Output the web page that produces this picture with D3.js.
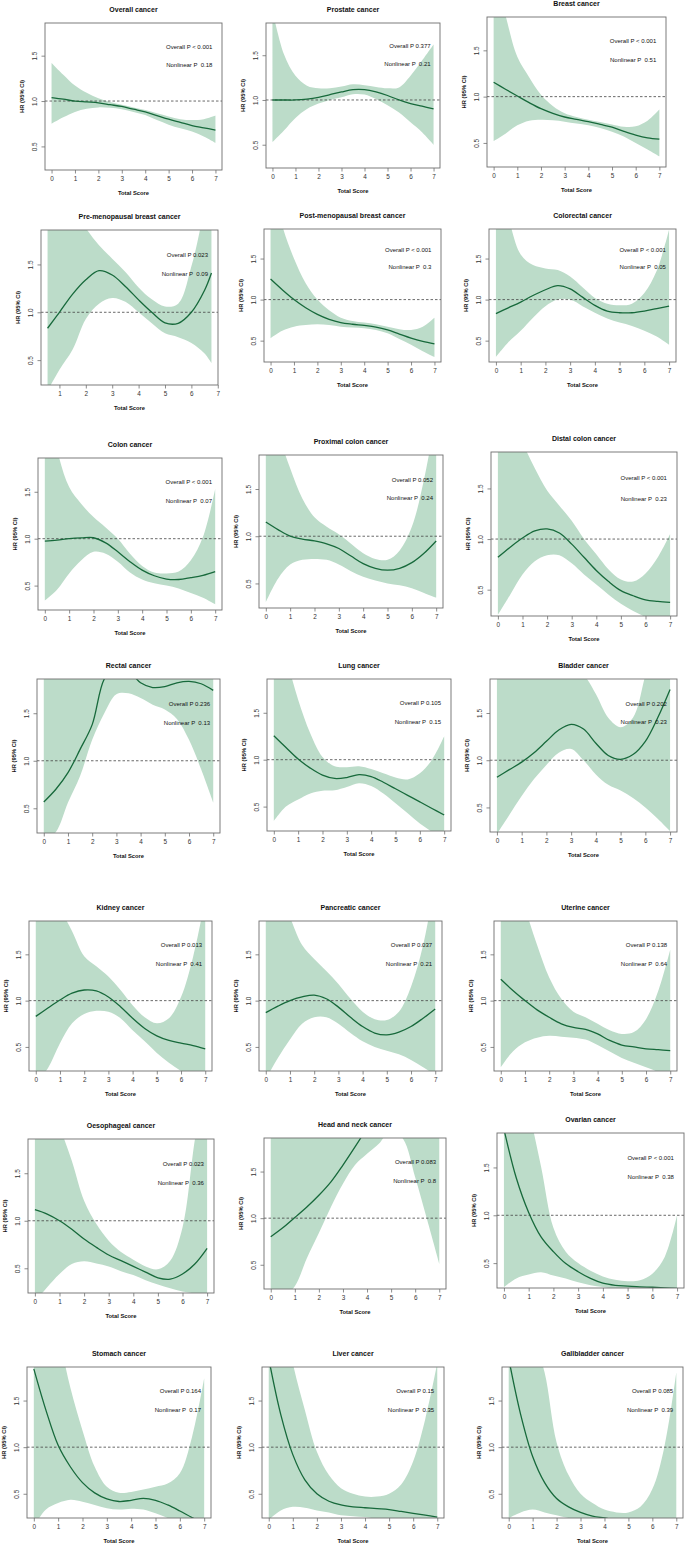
<!DOCTYPE html>
<html>
<head>
<meta charset="utf-8">
<script src="https://cdn.jsdelivr.net/npm/d3@7"></script>
<style>
  body { margin: 0; background: #fff; }
  svg text { font-family: "Liberation Sans", Arial, sans-serif; fill: #111; }
</style>
</head>
<body>
<svg id="chart" width="685" height="1546"></svg>
<script>
// cancer sites, one panel each
const titles = ['Overall cancer', 'Prostate cancer', 'Breast cancer',
  'Pre-menopausal breast cancer', 'Post-menopausal breast cancer', 'Colorectal cancer',
  'Colon cancer', 'Proximal colon cancer', 'Distal colon cancer',
  'Rectal cancer', 'Lung cancer', 'Bladder cancer',
  'Kidney cancer', 'Pancreatic cancer', 'Uterine cancer',
  'Oesophageal cancer', 'Head and neck cancer', 'Ovarian cancer',
  'Stomach cancer', 'Liver cancer', 'Gallbladder cancer'];

const overallP = ['< 0.001', '0.377', '< 0.001', '0.023', '< 0.001', '< 0.001', '< 0.001', '0.052', '< 0.001',
  '0.236', '0.105', '0.202', '0.013', '0.037', '0.138', '0.023', '0.083', '< 0.001', '0.164', '0.15', '0.085'];
const nonlinearP = ['0.18', '0.21', '0.51', '0.09', '0.3', '0.05', '0.07', '0.24', '0.23',
  '0.13', '0.15', '0.23', '0.41', '0.21', '0.64', '0.36', '0.8', '0.38', '0.17', '0.35', '0.39'];

const xScore = [0, 0.5, 1, 1.5, 2, 2.5, 3, 3.5, 4, 4.5, 5, 5.5, 6, 6.5, 7];
const xPremeno = [0.55, 1, 1.5, 2, 2.5, 3, 3.5, 4, 4.5, 5, 5.5, 6, 6.5, 6.76];
const xTicks = [0, 1, 2, 3, 4, 5, 6, 7];
const yTicks = [0.5, 1.0, 1.5];

// hazard ratio spline
const hrCurve = [
  [1.037, 1.02, 1.0, 0.99, 0.98, 0.96, 0.94, 0.91, 0.88, 0.84, 0.80, 0.765, 0.73, 0.705, 0.68],
  [1.0, 1.0, 1.0, 1.01, 1.03, 1.06, 1.09, 1.115, 1.115, 1.09, 1.05, 1.0, 0.96, 0.93, 0.90],
  [1.155, 1.08, 1.007, 0.935, 0.87, 0.82, 0.78, 0.755, 0.73, 0.70, 0.67, 0.625, 0.585, 0.555, 0.54],
  [0.833, 1.0, 1.19, 1.34, 1.435, 1.39, 1.27, 1.13, 1.0, 0.89, 0.885, 1.0, 1.23, 1.41],
  [1.25, 1.12, 1.0, 0.9, 0.82, 0.76, 0.72, 0.70, 0.685, 0.665, 0.63, 0.58, 0.53, 0.49, 0.46],
  [0.83, 0.90, 0.97, 1.05, 1.12, 1.17, 1.13, 1.03, 0.93, 0.86, 0.84, 0.84, 0.86, 0.89, 0.92],
  [0.975, 0.985, 1.0, 1.008, 1.01, 0.955, 0.86, 0.755, 0.665, 0.605, 0.57, 0.565, 0.585, 0.61, 0.65],
  [1.15, 1.07, 1.0, 0.97, 0.95, 0.92, 0.87, 0.79, 0.71, 0.66, 0.64, 0.66, 0.72, 0.82, 0.95],
  [0.82, 0.92, 1.01, 1.08, 1.10, 1.06, 0.95, 0.82, 0.69, 0.58, 0.49, 0.44, 0.40, 0.385, 0.375],
  [0.566, 0.70, 0.875, 1.12, 1.38, 1.86, 2.0, 1.95, 1.82, 1.77, 1.78, 1.82, 1.835, 1.81, 1.74],
  [1.256, 1.13, 1.007, 0.91, 0.835, 0.80, 0.81, 0.84, 0.82, 0.76, 0.69, 0.62, 0.55, 0.48, 0.41],
  [0.82, 0.90, 0.98, 1.08, 1.20, 1.32, 1.38, 1.33, 1.18, 1.05, 1.01, 1.06, 1.20, 1.45, 1.75],
  [0.83, 0.92, 1.007, 1.08, 1.115, 1.105, 1.04, 0.935, 0.81, 0.70, 0.62, 0.57, 0.54, 0.515, 0.48],
  [0.87, 0.94, 1.0, 1.04, 1.06, 1.02, 0.93, 0.82, 0.72, 0.65, 0.63, 0.66, 0.72, 0.81, 0.91],
  [1.23, 1.11, 1.0, 0.9, 0.82, 0.75, 0.71, 0.69, 0.64, 0.57, 0.52, 0.50, 0.48, 0.47, 0.46],
  [1.116, 1.07, 1.0, 0.91, 0.807, 0.72, 0.64, 0.58, 0.52, 0.46, 0.40, 0.386, 0.44, 0.545, 0.71],
  [0.80, 0.896, 1.007, 1.12, 1.246, 1.39, 1.57, 1.764, 1.97, 2.2, 2.4, 2.6, 2.8, 3.0, 3.2],
  [1.9, 1.39, 1.03, 0.775, 0.62, 0.495, 0.41, 0.34, 0.29, 0.268, 0.26, 0.252, 0.248, 0.242, 0.235],
  [1.84, 1.395, 1.02, 0.79, 0.62, 0.51, 0.445, 0.417, 0.43, 0.45, 0.43, 0.38, 0.315, 0.245, 0.18],
  [1.95, 1.35, 0.92, 0.65, 0.5, 0.42, 0.38, 0.36, 0.35, 0.34, 0.33, 0.31, 0.29, 0.27, 0.25],
  [1.95, 1.35, 0.9, 0.62, 0.45, 0.36, 0.3, 0.26, 0.24, 0.22, 0.21, 0.2, 0.19, 0.18, 0.17]
];

// 95% CI lower bound
const ciLower = [
  [0.75, 0.82, 0.88, 0.915, 0.93, 0.925, 0.91, 0.88, 0.845, 0.79, 0.74, 0.70, 0.665, 0.61, 0.54],
  [0.53, 0.66, 0.80, 0.90, 0.96, 1.0, 1.03, 1.065, 1.06, 1.01, 0.94, 0.86, 0.75, 0.64, 0.50],
  [0.52, 0.60, 0.69, 0.74, 0.75, 0.745, 0.73, 0.71, 0.69, 0.66, 0.62, 0.57, 0.50, 0.43, 0.355],
  [0.18, 0.40, 0.61, 0.93, 1.09, 1.15, 1.11, 1.0, 0.885, 0.78, 0.74, 0.68, 0.57, 0.47],
  [0.53, 0.62, 0.67, 0.69, 0.70, 0.69, 0.67, 0.66, 0.65, 0.63, 0.59, 0.52, 0.45, 0.37, 0.30],
  [0.30, 0.48, 0.62, 0.78, 0.92, 1.0, 1.0, 0.92, 0.84, 0.77, 0.72, 0.68, 0.62, 0.55, 0.45],
  [0.34, 0.455, 0.63, 0.77, 0.86, 0.84, 0.755, 0.64, 0.565, 0.525, 0.50, 0.47, 0.42, 0.37, 0.30],
  [0.30, 0.55, 0.70, 0.75, 0.76, 0.75, 0.70, 0.63, 0.57, 0.53, 0.50, 0.48, 0.45, 0.40, 0.35],
  [0.25, 0.45, 0.65, 0.78, 0.84, 0.84, 0.76, 0.65, 0.55, 0.45, 0.36, 0.29, 0.23, 0.18, 0.14],
  [0.15, 0.25, 0.56, 0.84, 1.22, 1.50, 1.70, 1.71, 1.66, 1.59, 1.54, 1.44, 1.22, 0.91, 0.56],
  [0.345, 0.50, 0.575, 0.64, 0.67, 0.675, 0.71, 0.75, 0.72, 0.64, 0.535, 0.43, 0.32, 0.23, 0.14],
  [0.22, 0.42, 0.62, 0.80, 0.95, 1.08, 1.12, 1.0, 0.85, 0.74, 0.68, 0.60, 0.50, 0.38, 0.25],
  [0.10, 0.27, 0.54, 0.755, 0.855, 0.89, 0.88, 0.81, 0.68, 0.56, 0.435, 0.33, 0.24, 0.16, 0.10],
  [0.15, 0.38, 0.58, 0.75, 0.82, 0.82, 0.75, 0.65, 0.56, 0.50, 0.46, 0.42, 0.36, 0.28, 0.20],
  [0.28, 0.45, 0.55, 0.60, 0.62, 0.61, 0.60, 0.58, 0.52, 0.45, 0.38, 0.33, 0.28, 0.23, 0.18],
  [0.15, 0.30, 0.44, 0.545, 0.574, 0.55, 0.52, 0.47, 0.43, 0.375, 0.33, 0.29, 0.255, 0.235, 0.21],
  [0.05, 0.15, 0.27, 0.57, 0.84, 1.12, 1.37, 1.57, 1.69, 1.80, 1.95, 1.85, 1.44, 0.98, 0.51],
  [0.25, 0.34, 0.38, 0.405, 0.37, 0.34, 0.30, 0.27, 0.25, 0.23, 0.21, 0.20, 0.19, 0.18, 0.17],
  [0.15, 0.33, 0.40, 0.435, 0.415, 0.38, 0.345, 0.33, 0.34, 0.33, 0.29, 0.24, 0.18, 0.13, 0.08],
  [0.22, 0.32, 0.36, 0.35, 0.32, 0.3, 0.27, 0.26, 0.25, 0.23, 0.21, 0.19, 0.17, 0.15, 0.13],
  [0.24, 0.3, 0.33, 0.3, 0.27, 0.24, 0.21, 0.19, 0.17, 0.15, 0.14, 0.13, 0.12, 0.11, 0.1]
];

// 95% CI upper bound
const ciUpper = [
  [1.42, 1.29, 1.17, 1.09, 1.03, 0.99, 0.96, 0.93, 0.90, 0.865, 0.83, 0.80, 0.79, 0.80, 0.84],
  [2.0, 1.51, 1.27, 1.16, 1.13, 1.13, 1.15, 1.175, 1.165, 1.145, 1.13, 1.14, 1.27, 1.44, 1.62],
  [2.4, 1.88, 1.43, 1.21, 1.02, 0.90, 0.82, 0.78, 0.75, 0.725, 0.70, 0.675, 0.68, 0.74, 0.86],
  [2.6, 2.4, 2.1, 1.88, 1.70, 1.56, 1.42, 1.26, 1.135, 1.06, 1.09, 1.48, 2.1, 2.5],
  [2.5, 1.9, 1.5, 1.2, 1.0, 0.87, 0.78, 0.74, 0.72, 0.70, 0.67, 0.64, 0.63, 0.67, 0.78],
  [2.5, 2.0, 1.55, 1.42, 1.38, 1.36, 1.28, 1.15, 1.02, 0.95, 0.93, 0.95, 1.08, 1.35, 1.85],
  [2.6, 1.95, 1.55, 1.37, 1.23, 1.12, 1.0, 0.84, 0.71, 0.64, 0.63, 0.65, 0.77, 1.02, 1.53],
  [2.6, 2.1, 1.72, 1.4, 1.2, 1.1, 1.02, 0.92, 0.82, 0.76, 0.75, 0.85, 1.1, 1.6, 2.3],
  [2.5, 2.2, 1.95, 1.7, 1.48, 1.33, 1.18, 1.0, 0.85, 0.70, 0.60, 0.58, 0.66, 0.82, 1.05],
  [2.2, 2.4, 2.6, 2.8, 3.0, 3.0, 3.0, 3.0, 3.0, 3.0, 3.0, 3.0, 3.0, 3.0, 3.0],
  [2.6, 2.1, 1.64, 1.28, 1.03, 0.93, 0.92, 0.93, 0.90, 0.855, 0.81, 0.79, 0.855, 1.0, 1.25],
  [2.8, 2.5, 2.2, 2.0, 1.95, 1.9, 1.95, 1.9, 1.7, 1.45, 1.35, 1.45, 1.9, 2.4, 3.0],
  [2.6, 2.3, 2.0, 1.75, 1.48, 1.37, 1.26, 1.115, 0.95, 0.82, 0.755, 0.81, 1.04, 1.475, 2.1],
  [2.6, 2.2, 1.9, 1.6, 1.45, 1.32, 1.18, 1.02, 0.88, 0.8, 0.79, 0.88, 1.15, 1.6, 2.3],
  [2.8, 2.4, 2.0, 1.6, 1.25, 1.02, 0.88, 0.82, 0.75, 0.68, 0.64, 0.66, 0.8, 1.1, 1.55],
  [2.8, 2.4, 2.0, 1.63, 1.21, 0.965, 0.79, 0.67, 0.59, 0.52, 0.49, 0.58, 0.93, 1.85, 2.6],
  [3.0, 3.0, 3.2, 3.4, 3.6, 3.8, 4.0, 4.0, 4.0, 4.0, 4.0, 4.0, 4.0, 4.0, 4.0],
  [3.0, 2.6, 2.1, 1.51, 0.87, 0.62, 0.50, 0.42, 0.36, 0.325, 0.31, 0.32, 0.39, 0.565, 1.0],
  [3.0, 2.6, 2.2, 1.64, 1.18, 0.79, 0.575, 0.51, 0.52, 0.545, 0.575, 0.61, 0.72, 1.11, 1.74],
  [3.0, 2.6, 1.9, 1.4, 0.95, 0.7, 0.56, 0.5, 0.47, 0.47, 0.5, 0.6, 0.85, 1.3, 1.9],
  [3.0, 2.6, 2.2, 1.8, 1.05, 0.7, 0.5, 0.4, 0.33, 0.3, 0.3, 0.36, 0.55, 1.0, 1.8]
];

// plot frame of every panel: left, top, right, bottom
const panelBox = [
  [45, 23, 222, 170], [266, 23, 440, 168], [487, 17, 666, 167],
  [41, 230, 218, 385], [264, 229, 441, 362], [489, 229, 676, 362],
  [38, 458, 222, 610], [259, 455, 443, 608], [491, 452, 677, 616],
  [37, 679, 220, 833], [267, 679, 451, 831], [490, 679, 677, 832],
  [29, 921, 212, 1071], [259, 921, 442, 1071], [494, 921, 677, 1071],
  [28, 1139, 214, 1293], [264, 1138, 446, 1289], [497, 1133, 684, 1288],
  [27, 1367, 211, 1518], [262, 1367, 444, 1518], [502, 1367, 683, 1518]
];

const ribbonFill = '#bcdcc9';
const lineColor = '#17693b';
const frameColor = '#6e6e6e';
const yDomain = [0.24, 1.86];

const svg = d3.select('#chart');

titles.forEach(function(title, i) {
  const [left, top, right, bottom] = panelBox[i];
  const xs = i === 3 ? xPremeno : xScore;
  const lo = d3.min(xs), hi = d3.max(xs), pad = (hi - lo) * 0.04; // R style axis padding

  const x = d3.scaleLinear().domain([lo - pad, hi + pad]).range([left, right]);
  const y = d3.scaleLinear().domain(yDomain).range([bottom, top]);

  const rows = xs.map((v, k) => ({x: v, hr: hrCurve[i][k], lo: ciLower[i][k], up: ciUpper[i][k]}));

  const g = svg.append('g');

  g.append('clipPath').attr('id', 'clip' + i)
    .append('rect')
    .attr('x', left).attr('y', top)
    .attr('width', right - left).attr('height', bottom - top);

  const plot = g.append('g').attr('clip-path', 'url(#clip' + i + ')');

  // CI ribbon
  plot.append('path').datum(rows)
    .attr('fill', ribbonFill)
    .attr('d', d3.area()
      .x(d => x(d.x)).y0(d => y(d.lo)).y1(d => y(d.up))
      .curve(d3.curveCatmullRom));

  // reference line HR = 1
  plot.append('line')
    .attr('x1', left).attr('x2', right)
    .attr('y1', y(1)).attr('y2', y(1))
    .attr('stroke', '#444').attr('stroke-width', 0.8)
    .attr('stroke-dasharray', '2.5,2');

  // HR curve
  plot.append('path').datum(rows)
    .attr('fill', 'none')
    .attr('stroke', lineColor).attr('stroke-width', 1.3)
    .attr('d', d3.line().x(d => x(d.x)).y(d => y(d.hr)).curve(d3.curveCatmullRom));

  // frame
  g.append('rect')
    .attr('x', left).attr('y', top)
    .attr('width', right - left).attr('height', bottom - top)
    .attr('fill', 'none').attr('stroke', frameColor).attr('stroke-width', 0.9);

  // x axis
  const xa = g.append('g').attr('transform', 'translate(0,' + bottom + ')')
    .call(d3.axisBottom(x)
      .tickValues(xTicks.filter(t => t >= x.domain()[0] && t <= x.domain()[1]))
      .tickSize(3.5).tickPadding(2.5).tickFormat(d3.format('d')));
  xa.select('.domain').remove();
  xa.selectAll('line').attr('stroke', frameColor).attr('stroke-width', 0.8);
  xa.selectAll('text').attr('font-size', 6.4).attr('font-family', null).style('fill', '#333');

  // y axis, labels turned like R's default
  const ya = g.append('g').attr('transform', 'translate(' + left + ',0)')
    .call(d3.axisLeft(y).tickValues(yTicks).tickSize(3.5).tickFormat(d3.format('.1f')));
  ya.select('.domain').remove();
  ya.selectAll('line').attr('stroke', frameColor).attr('stroke-width', 0.8);
  ya.selectAll('text')
    .attr('x', null).attr('dy', null)
    .attr('text-anchor', 'middle')
    .attr('transform', 'translate(-8.2,0) rotate(-90)')
    .attr('font-size', 6.4).attr('font-family', null).style('fill', '#333');

  // titles and axis names
  g.append('text')
    .attr('x', (left + right) / 2).attr('y', top - 14)
    .attr('text-anchor', 'middle').attr('dominant-baseline', 'central')
    .attr('font-weight', 'bold').attr('font-size', 7)
    .text(title);

  g.append('text')
    .attr('x', (left + right) / 2).attr('y', bottom + 23)
    .attr('text-anchor', 'middle').attr('dominant-baseline', 'central')
    .attr('font-weight', 'bold').attr('font-size', 5.8)
    .text('Total Score');

  g.append('text')
    .attr('transform', 'translate(' + (left - 23) + ',' + ((top + bottom) / 2) + ') rotate(-90)')
    .attr('text-anchor', 'middle').attr('dominant-baseline', 'central')
    .attr('font-weight', 'bold').attr('font-size', 5.8)
    .text('HR (95% CI)');

  // p-values
  const noteX = x(hi - 0.13);
  g.append('text')
    .attr('x', noteX).attr('y', y(1.6))
    .attr('text-anchor', 'end').attr('dominant-baseline', 'central')
    .attr('font-size', 6).style('white-space', 'pre')
    .text('Overall P ' + overallP[i]);
  g.append('text')
    .attr('x', noteX).attr('y', y(1.4))
    .attr('text-anchor', 'end').attr('dominant-baseline', 'central')
    .attr('font-size', 6).style('white-space', 'pre')
    .text('Nonlinear P  ' + nonlinearP[i]);
});
</script>
</body>
</html>
